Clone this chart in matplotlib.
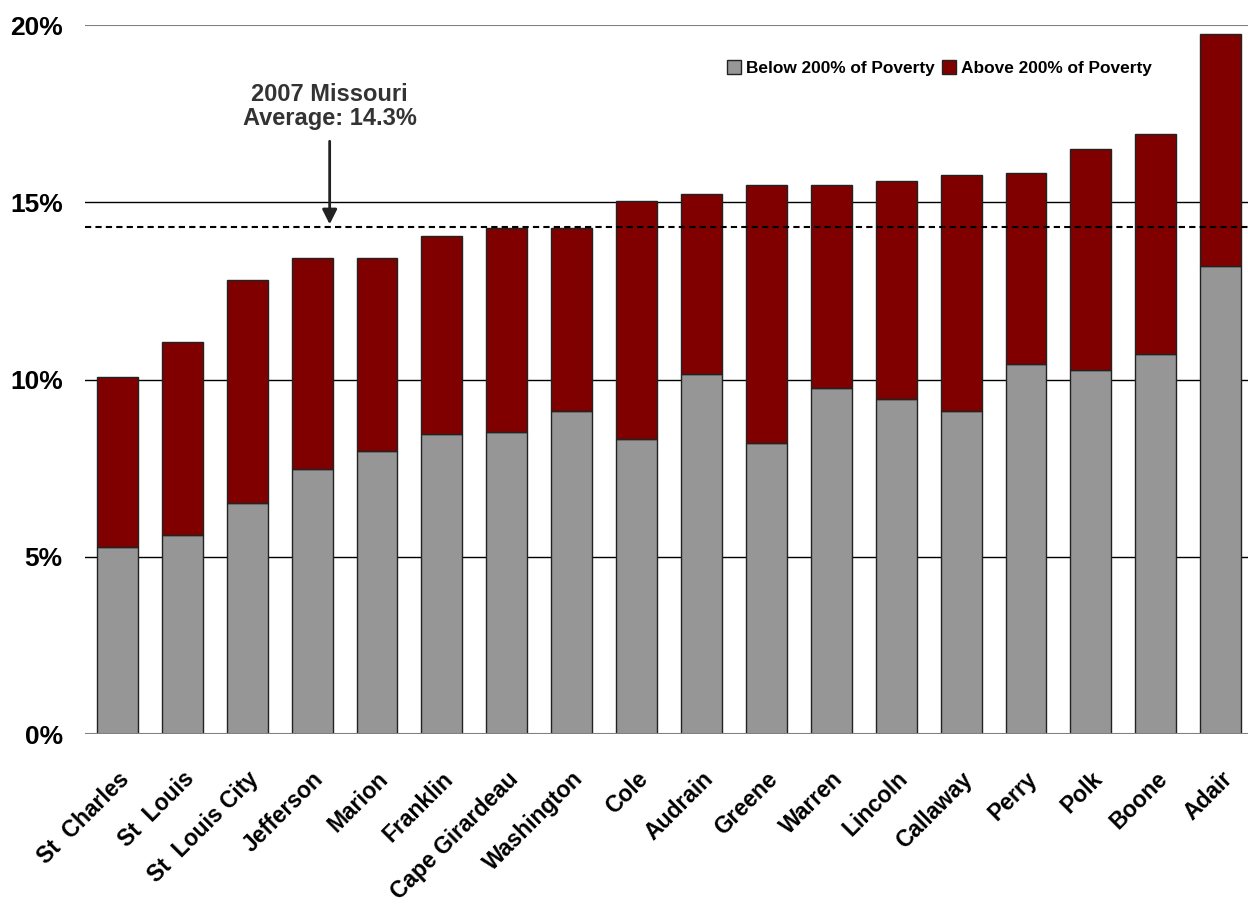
import numpy as np
import matplotlib.pyplot as plt

counties = ["St  Charles", "St  Louis", "St  Louis City", "Jefferson", "Marion",
            "Franklin", "Cape Girardeau", "Washington", "Cole", "Audrain",
            "Greene", "Warren", "Lincoln", "Callaway", "Perry", "Polk",
            "Boone", "Adair"]
# percent of population
below_200 = [5.28, 5.62, 6.53, 7.48, 7.99, 8.47, 8.53, 9.12, 8.33, 10.17,
             8.22, 9.75, 9.44, 9.10, 10.45, 10.28, 10.73, 13.19]
total = [10.08, 11.05, 12.80, 13.42, 13.42, 14.04, 14.27, 14.27, 15.03, 15.23,
         15.48, 15.48, 15.59, 15.76, 15.82, 16.50, 16.92, 19.75]
above_200 = [t - b for t, b in zip(total, below_200)]
mo_avg = 14.3

plt.rcParams['font.family'] = ['Liberation Sans', 'DejaVu Sans']
plt.rcParams['font.weight'] = 'bold'

fig = plt.figure(figsize=(12.48, 9.07), dpi=100)
ax = fig.add_axes([0.0681, 0.1907, 0.9319, 0.7817])

x = np.arange(len(counties))
ax.bar(x, below_200, width=0.63, color='#969696', edgecolor='#222222',
       linewidth=1, label='Below 200% of Poverty', zorder=3)
ax.bar(x, above_200, bottom=below_200, width=0.63, color='#800000',
       edgecolor='#222222', linewidth=1, label='Above 200% of Poverty', zorder=3)

for y in [5, 10, 15]:
    ax.axhline(y, color='black', lw=1, zorder=1)
ax.axhline(20, color='#808080', lw=1.5, zorder=1)
ax.axhline(0, color='#808080', lw=1.5, zorder=4)
ax.axhline(mo_avg, color='black', lw=1.5, ls=(0, (3, 2)), zorder=4)

ax.set_xlim(-0.5, 17.42)
ax.set_ylim(0, 20)
for s in ax.spines.values():
    s.set_visible(False)

ax.set_yticks([0, 5, 10, 15, 20])
ax.set_yticklabels(['0%', '5%', '10%', '15%', '20%'], fontsize=19, fontweight='bold')
ax.tick_params(axis='y', length=0, pad=16)
ax.set_xticks(x)
ax.set_xticklabels(counties, rotation=45, ha='right', rotation_mode='anchor',
                   fontsize=16.5, fontweight='bold')
ax.tick_params(axis='x', length=0, pad=24)

ax.annotate('', xy=(3.27, mo_avg), xytext=(3.27, 16.8),
            arrowprops=dict(arrowstyle='-|>', color='#222222', lw=2,
                            mutation_scale=22), zorder=5)
ax.text(3.27, 17.05, '2007 Missouri\nAverage: 14.3%', ha='center', va='bottom',
        fontsize=17, fontweight='bold', color='#333333', linespacing=1.05)

ax.legend(loc='upper left', bbox_to_anchor=(0.539, 0.972), ncol=2, frameon=False,
          handlelength=0.8, handleheight=0.8, handletextpad=0.3,
          columnspacing=0.4, prop={'weight': 'bold', 'size': 12.4})

fig.savefig('out.png', dpi=100)
